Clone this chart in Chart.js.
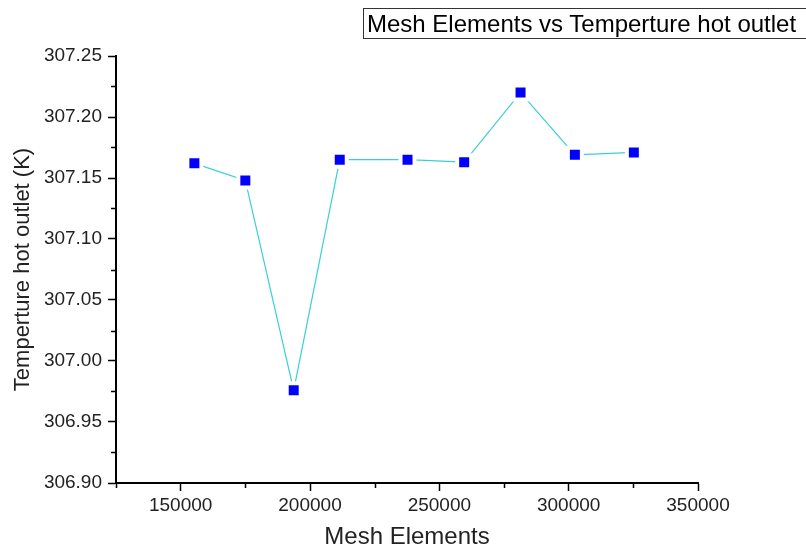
<!DOCTYPE html>
<html>
<head>
<meta charset="utf-8">
<script src="https://cdn.jsdelivr.net/npm/chart.js@4.4.0/dist/chart.umd.min.js"></script>
<style>
    html, body { margin: 0; padding: 0; background: #fff; }
    #wrap { position: relative; width: 806px; height: 552px; overflow: hidden; }
    #titleBox {
        position: absolute; left: 363px; top: 8px; width: 460px; height: 29px;
        border: 1.5px solid #333; box-sizing: content-box;
        font-family: "Liberation Sans", Arial, sans-serif; font-size: 24px;
        line-height: 29px; padding-left: 3px; color: #000; white-space: nowrap;
    }
</style>
</head>
<body>
<div id="wrap">
    <canvas id="chart" width="806" height="552"></canvas>
    <div id="titleBox">Mesh Elements vs Temperture hot outlet</div>
</div>
<script>
// valores
const meshElements = [155300, 175000, 193700, 211500, 237700, 259600, 281400, 302400, 325200];
const tempHotOutlet = [307.162, 307.148, 306.976, 307.165, 307.165, 307.163, 307.220, 307.169, 307.171];

const xTicks = [150000, 200000, 250000, 300000, 350000];
const xMinor = [125000, 175000, 225000, 275000, 325000];
const yTicks = [306.90, 306.95, 307.00, 307.05, 307.10, 307.15, 307.20, 307.25];
const yMinor = [306.925, 306.975, 307.025, 307.075, 307.125, 307.175, 307.225];

const fontFamily = '"Liberation Sans", Arial, sans-serif';

// ticks menores (o Chart.js não tem minor ticks)
const minorTicks = {
    id: 'minorTicks',
    afterDraw(chart) {
        const ctx = chart.ctx;
        const x = chart.scales.x;
        const y = chart.scales.y;
        ctx.save();
        ctx.strokeStyle = '#000';
        ctx.lineWidth = 1.5;
        ctx.beginPath();
        xMinor.forEach(v => {
            const px = Math.round(x.getPixelForValue(v)) + 0.5;
            ctx.moveTo(px, x.top);
            ctx.lineTo(px, x.top + 5);
        });
        yMinor.forEach(v => {
            const py = Math.round(y.getPixelForValue(v)) + 0.5;
            ctx.moveTo(y.right, py);
            ctx.lineTo(y.right - 5, py);
        });
        ctx.stroke();
        ctx.restore();
    }
};

const points = meshElements.map((m, i) => ({ x: m, y: tempHotOutlet[i] }));

new Chart(document.getElementById('chart'), {
    type: 'line',
    data: {
        datasets: [{
            data: points,
            borderColor: '#38d0d4',
            borderWidth: 1.2,
            pointStyle: 'rect',
            pointRadius: 9.9,
            pointHoverRadius: 9.9,
            pointBackgroundColor: '#0000ff',
            pointBorderColor: '#ffffff',
            pointBorderWidth: 4,
            tension: 0
        }]
    },
    options: {
        responsive: false,
        animation: false,
        events: [],
        layout: { padding: { top: 56, right: 108, left: 0, bottom: 0 } },
        plugins: {
            legend: { display: false },
            tooltip: { enabled: false },
            title: { display: false }
        },
        scales: {
            x: {
                type: 'linear',
                min: 125000,
                max: 350000,
                afterBuildTicks: s => { s.ticks = xTicks.map(v => ({ value: v })); },
                afterFit: s => { s.height = 69; },
                grid: { drawOnChartArea: false, drawTicks: true, tickLength: 8, tickWidth: 1.5, tickColor: '#000' },
                border: { display: true, color: '#000', width: 2 },
                ticks: {
                    color: '#222',
                    font: { family: fontFamily, size: 19 },
                    padding: 3,
                    maxRotation: 0,
                    callback: v => String(v)
                },
                title: {
                    display: true,
                    text: 'Mesh Elements',
                    color: '#222',
                    font: { family: fontFamily, size: 24, lineHeight: 1.2 },
                    padding: { top: 0, bottom: 0 }
                }
            },
            y: {
                type: 'linear',
                min: 306.90,
                max: 307.25,
                afterBuildTicks: s => { s.ticks = yTicks.map(v => ({ value: v })); },
                afterFit: s => { s.width = 116; },
                grid: { drawOnChartArea: false, drawTicks: true, tickLength: 8, tickWidth: 1.5, tickColor: '#000' },
                border: { display: true, color: '#000', width: 2 },
                ticks: {
                    color: '#222',
                    font: { family: fontFamily, size: 19 },
                    padding: 6,
                    callback: v => v.toFixed(2)
                },
                title: {
                    display: true,
                    text: 'Temperture hot outlet (K)',
                    color: '#222',
                    font: { family: fontFamily, size: 22, lineHeight: 1.2 },
                    padding: { top: 10, bottom: 0 }
                }
            }
        }
    },
    plugins: [minorTicks]
});
</script>
</body>
</html>
